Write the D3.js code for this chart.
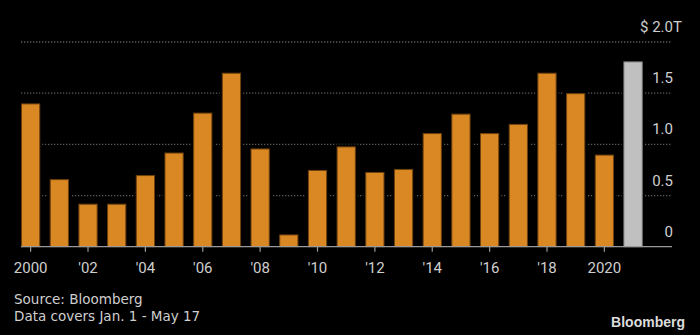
<!DOCTYPE html>
<html>
<head>
<meta charset="utf-8">
<script src="https://cdn.jsdelivr.net/npm/d3@7"></script>
<style>
  html, body { margin: 0; padding: 0; background: #000; }
  svg { display: block; }
</style>
</head>
<body>
<svg id="chart" width="700" height="335"></svg>
<script>
// Yearly totals, trillions of dollars (2021 is year-to-date)
const years = [2000, 2001, 2002, 2003, 2004, 2005, 2006, 2007, 2008, 2009, 2010,
               2011, 2012, 2013, 2014, 2015, 2016, 2017, 2018, 2019, 2020, 2021];
const values = [1.40, 0.66, 0.42, 0.42, 0.70, 0.92, 1.31, 1.70, 0.96, 0.12, 0.75,
                0.98, 0.73, 0.76, 1.11, 1.30, 1.11, 1.20, 1.70, 1.50, 0.90, 1.81];
const partialYear = 2021;

const xTickYears = [2000, 2002, 2004, 2006, 2008, 2010, 2012, 2014, 2016, 2018, 2020];
const xTickLabels = ["2000", "'02", "'04", "'06", "'08", "'10", "'12", "'14", "'16", "'18", "2020"];

const yTicks = [0, 0.5, 1.0, 1.5, 2.0];
const yTickLabels = ["0", "0.5", "1.0", "1.5", "$ 2.0"];
const yUnit = "T";

const sourceLines = ["Source: Bloomberg", "Data covers Jan. 1 - May 17"];

const svg = d3.select("#chart");
const font = "Roboto, 'Open Sans', sans-serif";
const noteFont = "'DejaVu Sans', sans-serif";
const textColor = "#cfcfcf";

const plotLeft = 21, plotRight = 672;
const x = d3.scaleBand().domain(years).range([16.3, 647.4])
  .paddingInner(0.33).paddingOuter(0.165);
const y = d3.scaleLinear().domain([0, 2]).range([246.7, 42]);

// dotted gridlines
svg.append("g").selectAll("line").data(yTicks.filter(d => d > 0)).join("line")
  .attr("x1", plotLeft).attr("x2", plotRight)
  .attr("y1", d => y(d)).attr("y2", d => y(d))
  .attr("stroke", "#5e5e5e").attr("stroke-width", 1.3)
  .attr("stroke-dasharray", "1.3,1.7");

const data = years.map((yr, i) => ({ year: yr, value: values[i] }));

// black halo so gridlines stop short of each bar
svg.append("g").selectAll("rect").data(data).join("rect")
  .attr("x", d => x(d.year) - 2)
  .attr("width", x.bandwidth() + 4)
  .attr("y", d => y(d.value) - 2)
  .attr("height", d => y(0) - y(d.value) + 2)
  .attr("fill", "#000");

svg.append("g").selectAll("rect").data(data).join("rect")
  .attr("x", d => x(d.year) + 0.5)
  .attr("width", x.bandwidth() - 1)
  .attr("y", d => y(d.value) + 0.5)
  .attr("height", d => y(0) - y(d.value) - 0.5)
  .attr("fill", d => d.year === partialYear ? "#c0c0c0" : "#da8823")
  .attr("stroke", d => d.year === partialYear ? "#8a8a8a" : "#6e420f")
  .attr("stroke-width", 1);

// baseline
svg.append("line")
  .attr("x1", plotLeft).attr("x2", plotRight)
  .attr("y1", y(0)).attr("y2", y(0))
  .attr("stroke", "#9a9a9a").attr("stroke-width", 1.2);

// x axis ticks and labels
const xAxis = d3.axisBottom(x)
  .tickValues(xTickYears)
  .tickFormat(d => xTickLabels[xTickYears.indexOf(d)])
  .tickSize(5).tickSizeOuter(0).tickPadding(11);
const gx = svg.append("g").attr("transform", `translate(0,${y(0)})`).call(xAxis);
gx.select(".domain").remove();
gx.selectAll(".tick line").attr("stroke", "#9a9a9a").attr("stroke-width", 1.2);
gx.selectAll(".tick text")
  .attr("fill", textColor).attr("font-family", font).attr("font-size", 15);

// y labels above each gridline, right-aligned
const labelX = 673;
const gy = svg.append("g");
gy.selectAll("text.ylab").data(yTicks).join("text")
  .attr("class", "ylab")
  .attr("x", labelX).attr("y", d => y(d) - 10)
  .attr("text-anchor", "end")
  .attr("fill", textColor).attr("font-family", font).attr("font-size", 15)
  .text((d, i) => yTickLabels[i]);
gy.append("text")
  .attr("x", labelX).attr("y", y(2) - 10)
  .attr("fill", textColor).attr("font-family", font).attr("font-size", 15)
  .text(yUnit);

// footnotes
svg.append("g").selectAll("text").data(sourceLines).join("text")
  .attr("x", 14).attr("y", (d, i) => 304.3 + i * 16.5)
  .attr("fill", textColor).attr("font-family", noteFont).attr("font-size", 13.5)
  .text(d => d);

svg.append("text")
  .attr("x", 685).attr("y", 326.7)
  .attr("text-anchor", "end")
  .attr("fill", "#dcdcdc")
  .attr("font-family", "'Liberation Sans', Arial, sans-serif")
  .attr("font-weight", "bold").attr("font-size", 14)
  .text("Bloomberg");
</script>
</body>
</html>
